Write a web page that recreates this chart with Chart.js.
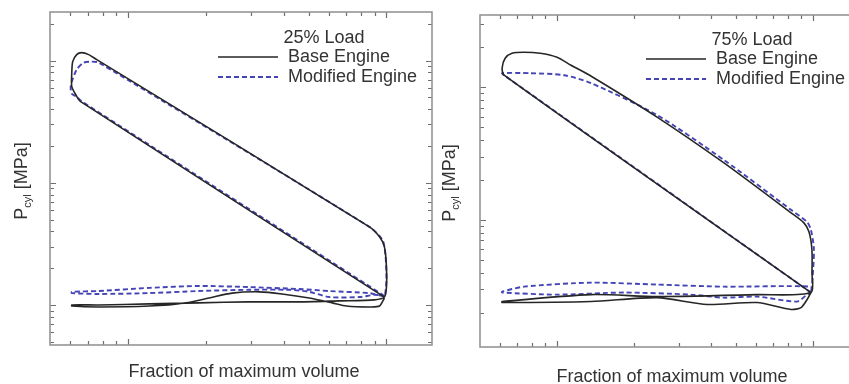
<!DOCTYPE html>
<html>
<head>
<meta charset="utf-8">
<script src="https://cdn.jsdelivr.net/npm/chart.js@4.4.1/dist/chart.umd.min.js"></script>
<style>
html, body { margin: 0; padding: 0; background: #fff; overflow: hidden; width: 849px; height: 384px; }
.panel { position: absolute; top: 0; height: 384px; width: 440px; }
#left { left: 0; }
#right { left: 440px; }
</style>
</head>
<body>
<div class="panel" id="left"><canvas id="chart25" width="440" height="384"></canvas></div>
<div class="panel" id="right"><canvas id="chart75" width="440" height="384"></canvas></div>
<script>
// 25% load, fraction of max volume / cylinder pressure (MPa)
const baseVol25 = [0.982, 0.0657, 0.0629, 0.0607, 0.0607, 0.0612, 0.0634, 0.0663, 0.0706, 0.0758, 0.859, 0.940, 0.982, 1.0, 1.0, 0.982,
  0.899, 0.657, 0.460, 0.294, 0.188, 0.121, 0.0772, 0.0607, 0.0607, 0.0772, 0.121, 0.168, 0.206, 0.253, 0.322, 0.395, 0.503, 0.618, 0.700, 0.859, 0.940, 0.982];
const basePres25 = [0.116, 4.61, 5.26, 6.12, 7.97, 9.81, 11.20, 11.63, 11.20, 10.19, 0.436, 0.361, 0.299, 0.205, 0.140, 0.116,
  0.110, 0.108, 0.106, 0.106, 0.104, 0.102, 0.100, 0.100, 0.098, 0.0963, 0.098, 0.104, 0.114, 0.125, 0.128, 0.123, 0.114, 0.104, 0.098, 0.0963, 0.098, 0.114];
const modVol25 = [0.982, 0.0657, 0.0634, 0.0607, 0.0601, 0.0607, 0.0634, 0.0675, 0.0725, 0.0772, 0.859, 0.965, 0.991, 1.0, 0.991, 0.982,
  0.859, 0.601, 0.460, 0.294, 0.188, 0.121, 0.0772, 0.0607, 0.0607, 0.0772, 0.121, 0.188, 0.294, 0.421, 0.503, 0.601, 0.786, 0.899, 0.982];
const modPres25 = [0.1185, 4.70, 5.07, 5.36, 6.01, 6.73, 8.44, 9.63, 9.81, 9.63, 0.436, 0.341, 0.257, 0.160, 0.128, 0.1185,
  0.125, 0.130, 0.135, 0.140, 0.143, 0.138, 0.130, 0.128, 0.125, 0.123, 0.125, 0.130, 0.133, 0.133, 0.128, 0.116, 0.116, 0.121, 0.1185];

// 75% load
const baseVol75 = [0.982, 0.0621, 0.0610, 0.0627, 0.0667, 0.0743, 0.0859, 0.100, 0.1134, 0.136, 0.246, 0.449, 0.821, 0.922, 0.965, 0.991, 0.991, 0.982,
  0.604, 0.246, 0.136, 0.0610, 0.0610, 0.136, 0.246, 0.386, 0.604, 0.821, 0.898, 0.948, 0.982];
const basePres75 = [0.283, 12.31, 13.90, 16.52, 18.02, 18.33, 18.02, 16.81, 14.64, 12.10, 5.95, 2.683, 1.129, 0.949, 0.812, 0.595, 0.400, 0.283,
  0.273, 0.264, 0.273, 0.242, 0.238, 0.242, 0.259, 0.230, 0.238, 0.211, 0.218, 0.250, 0.283];
const modVol75 = [0.982, 0.0621, 0.0610, 0.0784, 0.1065, 0.136, 0.246, 0.449, 0.821, 0.948, 0.982, 1.009, 0.991, 0.982,
  0.982, 0.449, 0.246, 0.136, 0.0743, 0.0610, 0.0610, 0.100, 0.183, 0.334, 0.449, 0.604, 0.866, 0.948, 0.982];
const modPres75 = [0.283, 12.31, 12.75, 12.75, 12.31, 10.72, 6.16, 2.825, 1.189, 0.966, 0.841, 0.595, 0.3135, 0.283,
  0.3135, 0.3135, 0.325, 0.336, 0.3135, 0.2875, 0.283, 0.273, 0.283, 0.273, 0.259, 0.264, 0.242, 0.273, 0.283];

const seriesNames = ['Base Engine', 'Modified Engine'];
const xTitle = 'Fraction of maximum volume';
const tickSteps = [1, 2, 3, 4, 5, 6, 7, 8, 9];
const textColor = '#333';
const fontFamily = 'Arial, "Liberation Sans", Helvetica, sans-serif';

function toPoints(xs, ys) {
  return xs.map((x, i) => ({ x: x, y: ys[i] }));
}

// 1..9 x 10^n values inside a log scale's range
function logTickValues(scale) {
  const out = [];
  const e0 = Math.floor(Math.log10(scale.min));
  const e1 = Math.ceil(Math.log10(scale.max));
  for (let e = e0; e <= e1; e++) {
    tickSteps.forEach(m => {
      const v = m * Math.pow(10, e);
      if (v > scale.min * 1.001 && v < scale.max * 0.999) out.push({ value: v, major: m === 1 });
    });
  }
  return out;
}

// inward ticks on all four sides plus the frame
const frameTicks = {
  id: 'frameTicks',
  afterDraw(chart) {
    const ctx = chart.ctx;
    const a = chart.chartArea;
    const sx = chart.scales.x;
    const sy = chart.scales.y;
    ctx.save();
    ctx.strokeStyle = '#6e6e6e';
    ctx.lineWidth = 1.2;
    ctx.beginPath();
    logTickValues(sx).forEach(t => {
      const px = Math.round(sx.getPixelForValue(t.value)) + 0.5;
      const len = t.major ? 6 : 4;
      ctx.moveTo(px, a.bottom); ctx.lineTo(px, a.bottom - len);
      ctx.moveTo(px, a.top); ctx.lineTo(px, a.top + len);
    });
    logTickValues(sy).forEach(t => {
      const py = Math.round(sy.getPixelForValue(t.value)) + 0.5;
      const len = t.major ? 6 : 4;
      ctx.moveTo(a.left, py); ctx.lineTo(a.left + len, py);
      ctx.moveTo(a.right, py); ctx.lineTo(a.right - len, py);
    });
    ctx.stroke();
    ctx.lineWidth = 1.6;
    ctx.strokeStyle = '#959595';
    ctx.strokeRect(a.left, a.top, a.right - a.left, a.bottom - a.top);
    ctx.restore();
  }
};

// legend with load title, axis titles (P with subscript cyl)
const decorations = {
  id: 'decorations',
  afterDraw(chart, args, opts) {
    const ctx = chart.ctx;
    ctx.save();
    ctx.fillStyle = textColor;
    ctx.textBaseline = 'middle';

    // legend
    ctx.font = '18px ' + fontFamily;
    ctx.textAlign = 'center';
    ctx.fillText(opts.loadTitle, opts.titleX, opts.legendY);
    chart.data.datasets.forEach((ds, i) => {
      const y = opts.legendY + 19 + i * 20;
      ctx.save();
      ctx.strokeStyle = ds.borderColor;
      ctx.lineWidth = ds.borderWidth;
      ctx.setLineDash(ds.borderDash || []);
      ctx.beginPath();
      ctx.moveTo(opts.sampleX, y);
      ctx.lineTo(opts.sampleX + 60, y);
      ctx.stroke();
      ctx.restore();
      ctx.textAlign = 'left';
      ctx.fillText(ds.label, opts.sampleX + 70, y);
    });

    // x title
    ctx.textAlign = 'center';
    ctx.fillText(xTitle, opts.xTitleX, opts.xTitleY);

    // y title, rotated
    ctx.translate(opts.yTitleX, opts.yTitleY);
    ctx.rotate(-Math.PI / 2);
    ctx.textAlign = 'left';
    ctx.textBaseline = 'alphabetic';
    const big = '18px ' + fontFamily;
    const small = '11px ' + fontFamily;
    ctx.font = big;
    const wP = ctx.measureText('P').width;
    const wRest = ctx.measureText(' [MPa]').width;
    ctx.font = small;
    const wSub = ctx.measureText('cyl').width;
    let x = -(wP + wSub + wRest) / 2;
    ctx.font = big;
    ctx.fillText('P', x, 6);
    x += wP;
    ctx.font = small;
    ctx.fillText('cyl', x, 10);
    x += wSub;
    ctx.font = big;
    ctx.fillText(' [MPa]', x, 6);
    ctx.restore();
  }
};

function makeChart(id, base, mod, yMin, yMax, pad, deco) {
  const ctx = document.getElementById(id).getContext('2d');
  return new Chart(ctx, {
    type: 'scatter',
    data: {
      datasets: [{
        label: seriesNames[0],
        data: base,
        showLine: true,
        borderColor: '#262626',
        borderWidth: 1.6,
        pointRadius: 0,
        tension: 0.25
      }, {
        label: seriesNames[1],
        data: mod,
        showLine: true,
        borderColor: '#4444b6',
        borderWidth: 1.9,
        borderDash: [5, 3],
        pointRadius: 0,
        tension: 0.25
      }]
    },
    options: {
      responsive: false,
      animation: false,
      layout: { padding: pad },
      scales: {
        x: {
          type: 'logarithmic',
          min: 0.05,
          max: 1.5,
          ticks: { display: false },
          grid: { display: false, drawTicks: false },
          border: { display: false }
        },
        y: {
          type: 'logarithmic',
          min: yMin,
          max: yMax,
          ticks: { display: false },
          grid: { display: false, drawTicks: false },
          border: { display: false }
        }
      },
      plugins: {
        legend: { display: false },
        tooltip: { enabled: false },
        decorations: deco
      }
    },
    plugins: [frameTicks, decorations]
  });
}

makeChart('chart25', toPoints(baseVol25, basePres25), toPoints(modVol25, modPres25), 0.047, 25,
  { left: 50, top: 12, right: 8, bottom: 39 },
  { loadTitle: '25% Load', titleX: 324, legendY: 38, sampleX: 218, xTitleX: 244, xTitleY: 372, yTitleX: 21, yTitleY: 181 });

makeChart('chart75', toPoints(baseVol75, basePres75), toPoints(modVol75, modPres75), 0.11, 35,
  { left: 40, top: 15, right: 22, bottom: 37 },
  { loadTitle: '75% Load', titleX: 312, legendY: 40, sampleX: 206, xTitleX: 232, xTitleY: 377, yTitleX: 9, yTitleY: 183 });
</script>
</body>
</html>
